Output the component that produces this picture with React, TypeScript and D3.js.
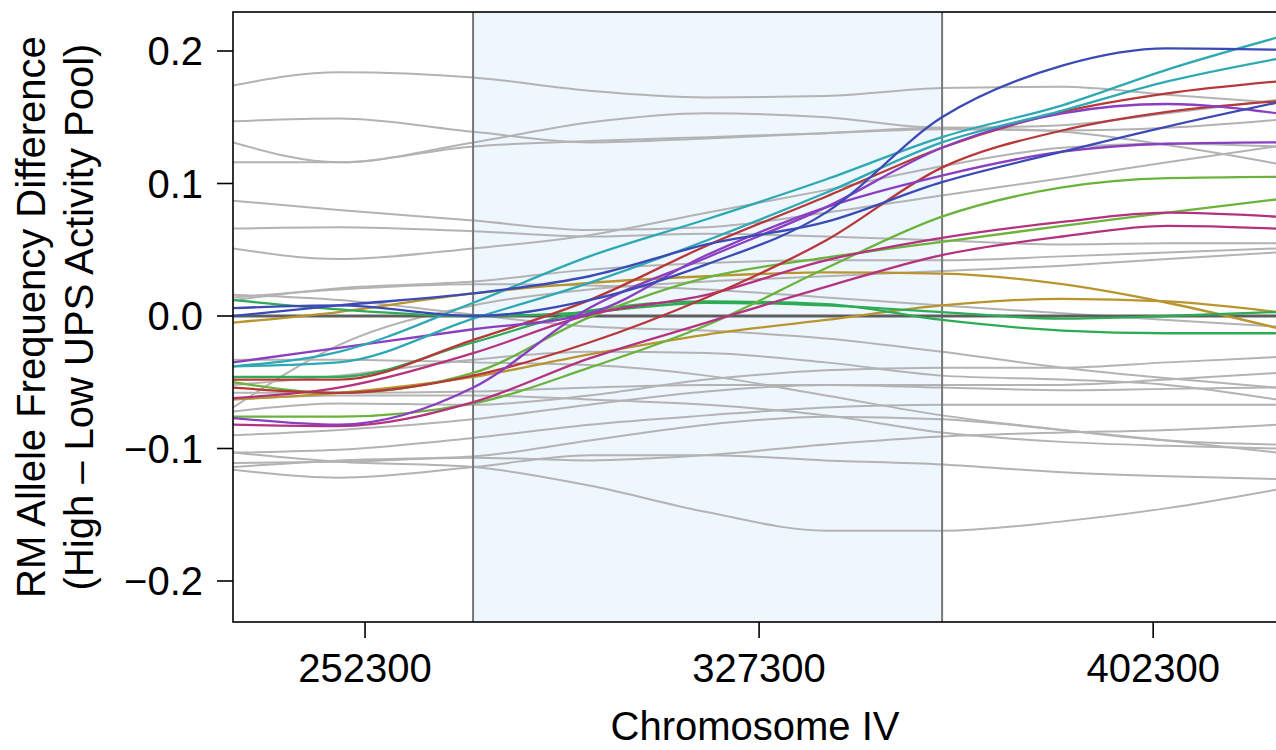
import React from "react";
import * as d3 from "d3";

// Genomic positions (Chromosome IV) at which each smoothed curve is sampled
const POSITIONS = [227200, 247300, 272900, 295000, 317300, 340000, 362100, 385000, 405000, 425800];

const X_TICKS = [252300, 327300, 402300];
const Y_TICKS = [-0.2, -0.1, 0.0, 0.1, 0.2];
const REGION = [272860, 362130];

// Grey (background) curves
const grey01 = [0.174, 0.184, 0.180, 0.170, 0.165, 0.166, 0.172, 0.173, 0.167, 0.161];
const grey02 = [0.147, 0.149, 0.139, 0.131, 0.134, 0.138, 0.142, 0.139, 0.129, 0.115];
const grey03 = [0.131, 0.116, 0.131, 0.146, 0.153, 0.150, 0.142, 0.144, 0.153, 0.163];
const grey04 = [0.116, 0.116, 0.128, 0.132, 0.135, 0.138, 0.141, 0.140, 0.142, 0.148];
const grey05 = [0.087, 0.080, 0.072, 0.065, 0.067, 0.078, 0.091, 0.104, 0.116, 0.128];
const grey06 = [0.066, 0.067, 0.064, 0.060, 0.062, 0.060, 0.057, 0.054, 0.055, 0.055];
const grey07 = [0.051, 0.043, 0.051, 0.061, 0.078, 0.095, 0.113, 0.127, 0.130, 0.128];
const grey08 = [0.012, 0.021, 0.026, 0.035, 0.040, 0.042, 0.042, 0.045, 0.048, 0.051];
const grey09 = [0.014, 0.020, 0.024, 0.023, 0.020, 0.014, 0.008, 0.002, -0.003, -0.008];
const grey10 = [-0.069, -0.022, 0.008, 0.020, 0.026, 0.030, 0.034, 0.038, 0.043, 0.048];
const grey11 = [0.016, 0.012, 0.001, -0.008, -0.011, -0.017, -0.027, -0.039, -0.047, -0.054];
const grey12 = [-0.058, -0.058, -0.057, -0.054, -0.052, -0.052, -0.054, -0.056, -0.055, -0.054];
const grey13 = [-0.072, -0.066, -0.067, -0.060, -0.048, -0.041, -0.039, -0.039, -0.035, -0.031];
const grey14 = [-0.090, -0.086, -0.078, -0.067, -0.057, -0.052, -0.052, -0.052, -0.048, -0.043];
const grey15 = [-0.103, -0.101, -0.092, -0.082, -0.075, -0.069, -0.067, -0.067, -0.067, -0.067];
const grey16 = [-0.103, -0.110, -0.114, -0.128, -0.148, -0.162, -0.162, -0.155, -0.145, -0.131];
const grey17 = [-0.111, -0.110, -0.107, -0.109, -0.105, -0.097, -0.091, -0.088, -0.086, -0.082];
const grey18 = [-0.114, -0.109, -0.106, -0.094, -0.082, -0.076, -0.078, -0.086, -0.094, -0.103];
const grey19 = [-0.116, -0.122, -0.114, -0.105, -0.105, -0.109, -0.112, -0.118, -0.121, -0.123];
const grey20 = [-0.052, -0.045, -0.033, -0.027, -0.028, -0.035, -0.045, -0.048, -0.052, -0.063];
const grey21 = [-0.033, -0.033, -0.035, -0.037, -0.045, -0.060, -0.075, -0.086, -0.094, -0.097];
const grey22 = [-0.063, -0.060, -0.060, -0.063, -0.067, -0.075, -0.088, -0.095, -0.098, -0.100];

// Coloured curves (two replicates per colour)
const blueA = [0.000, 0.008, 0.017, 0.030, 0.054, 0.071, 0.101, 0.124, 0.143, 0.161];
const blueB = [0.006, 0.008, 0.000, 0.012, 0.039, 0.078, 0.150, 0.189, 0.202, 0.201];
const cyanA = [-0.038, -0.027, 0.010, 0.045, 0.073, 0.103, 0.135, 0.159, 0.186, 0.210];
const cyanB = [-0.038, -0.035, -0.002, 0.025, 0.057, 0.093, 0.131, 0.155, 0.177, 0.194];
const redA = [-0.048, -0.048, -0.018, 0.012, 0.053, 0.090, 0.127, 0.154, 0.168, 0.177];
const redB = [-0.054, -0.058, -0.045, -0.020, 0.014, 0.057, 0.112, 0.140, 0.154, 0.162];
const purpleA = [-0.035, -0.024, -0.010, 0.002, 0.046, 0.082, 0.106, 0.124, 0.130, 0.131];
const purpleB = [-0.077, -0.082, -0.054, 0.006, 0.044, 0.082, 0.127, 0.153, 0.160, 0.153];
const magentaA = [-0.062, -0.054, -0.028, 0.001, 0.016, 0.042, 0.059, 0.071, 0.078, 0.075];
const magentaB = [-0.082, -0.083, -0.065, -0.032, -0.005, 0.022, 0.046, 0.060, 0.068, 0.066];
const limeA = [-0.050, -0.058, -0.043, -0.001, 0.029, 0.044, 0.056, 0.068, 0.078, 0.088];
const limeB = [-0.076, -0.076, -0.066, -0.039, -0.007, 0.036, 0.075, 0.097, 0.104, 0.105];
const greenA = [0.012, 0.005, 0.000, 0.003, 0.010, 0.008, 0.003, -0.002, 0.000, 0.003];
const greenB = [-0.046, -0.046, -0.020, 0.004, 0.011, 0.009, -0.003, -0.011, -0.013, -0.013];
const goldA = [-0.005, 0.003, 0.017, 0.025, 0.030, 0.033, 0.032, 0.024, 0.010, -0.009];
const goldB = [-0.063, -0.058, -0.046, -0.029, -0.014, -0.003, 0.008, 0.013, 0.011, 0.003];

const GREY_SERIES = [grey01, grey02, grey03, grey04, grey05, grey06, grey07, grey08, grey09, grey10, grey11,
  grey12, grey13, grey14, grey15, grey16, grey17, grey18, grey19, grey20, grey21, grey22];

const COLOR_SERIES = [
  { values: goldA, color: "#b8952f" },
  { values: goldB, color: "#b8952f" },
  { values: greenA, color: "#2eab55" },
  { values: greenB, color: "#2eab55" },
  { values: limeA, color: "#6cb33e" },
  { values: limeB, color: "#6cb33e" },
  { values: magentaA, color: "#b5327f" },
  { values: magentaB, color: "#b5327f" },
  { values: redA, color: "#b8383a" },
  { values: redB, color: "#b8383a" },
  { values: purpleA, color: "#8a3fc0" },
  { values: purpleB, color: "#8a3fc0" },
  { values: cyanA, color: "#2ea9b3" },
  { values: cyanB, color: "#2ea9b3" },
  { values: blueA, color: "#3b4ab5" },
  { values: blueB, color: "#3b4ab5" },
];

const W = 1276;
const H = 750;
const L = 233, R = 1277, T = 12, B = 622;
const FONT = "'Liberation Sans', Arial, Helvetica, sans-serif";
const FS = 40;

export default function App() {
  const x = d3.scaleLinear().domain([227170, 425870]).range([L, R]);
  const y = d3.scaleLinear().domain([-0.2, 0.2]).range([581, 51]);

  const line = d3
    .line<number>()
    .x((_, i) => x(POSITIONS[i]))
    .y((v) => y(v))
    .curve(d3.curveMonotoneX);

  return (
    <svg
      width={W}
      height={H}
      viewBox={`0 0 ${W} ${H}`}
      style={{ position: "fixed", left: 0, top: 0, background: "#fff" }}
    >
      <defs>
        <clipPath id="plotclip">
          <rect x={L} y={T} width={R - L} height={B - T} />
        </clipPath>
      </defs>
      <rect x={0} y={0} width={W} height={H} fill="#ffffff" />
      <g clipPath="url(#plotclip)">
        <rect
          x={x(REGION[0])}
          y={T}
          width={x(REGION[1]) - x(REGION[0])}
          height={B - T}
          fill="#eef6fe"
        />
        {GREY_SERIES.map((s, i) => (
          <path key={"g" + i} d={line(s) || ""} fill="none" stroke="#b3b3b3" strokeWidth={2} />
        ))}
        {REGION.map((r, i) => (
          <line key={"v" + i} x1={x(r)} x2={x(r)} y1={T} y2={B} stroke="#777777" strokeWidth={2} />
        ))}
        <line x1={L} x2={R} y1={y(0)} y2={y(0)} stroke="#5e5e5e" strokeWidth={3} />
        {COLOR_SERIES.map((s, i) => (
          <path key={"c" + i} d={line(s.values) || ""} fill="none" stroke={s.color} strokeWidth={2.3} />
        ))}
      </g>
      <rect x={L} y={T} width={R - L} height={B - T} fill="none" stroke="#000" strokeWidth={1.6} />

      {Y_TICKS.map((t) => (
        <g key={"yt" + t}>
          <line x1={L - 16} x2={L} y1={y(t)} y2={y(t)} stroke="#000" strokeWidth={1.6} />
          <text
            x={203}
            y={y(t)}
            dy="0.35em"
            textAnchor="end"
            fontFamily={FONT}
            fontSize={FS}
            fill="#000"
          >
            {(t < 0 ? "\u2212" : "") + Math.abs(t).toFixed(1)}
          </text>
        </g>
      ))}

      {X_TICKS.map((t) => (
        <g key={"xt" + t}>
          <line x1={x(t)} x2={x(t)} y1={B} y2={B + 16} stroke="#000" strokeWidth={1.6} />
          <text x={x(t)} y={682} textAnchor="middle" fontFamily={FONT} fontSize={FS} fill="#000">
            {String(t)}
          </text>
        </g>
      ))}

      <text x={(L + R) / 2} y={740} textAnchor="middle" fontFamily={FONT} fontSize={FS} fill="#000">
        Chromosome IV
      </text>

      <text
        transform={`translate(45, ${(T + B) / 2}) rotate(-90)`}
        textAnchor="middle"
        fontFamily={FONT}
        fontSize={FS}
        fill="#000"
      >
        RM Allele Frequency Difference
      </text>
      <text
        transform={`translate(93, ${(T + B) / 2}) rotate(-90)`}
        textAnchor="middle"
        fontFamily={FONT}
        fontSize={FS}
        fill="#000"
      >
        (High – Low UPS Activity Pool)
      </text>
    </svg>
  );
}
